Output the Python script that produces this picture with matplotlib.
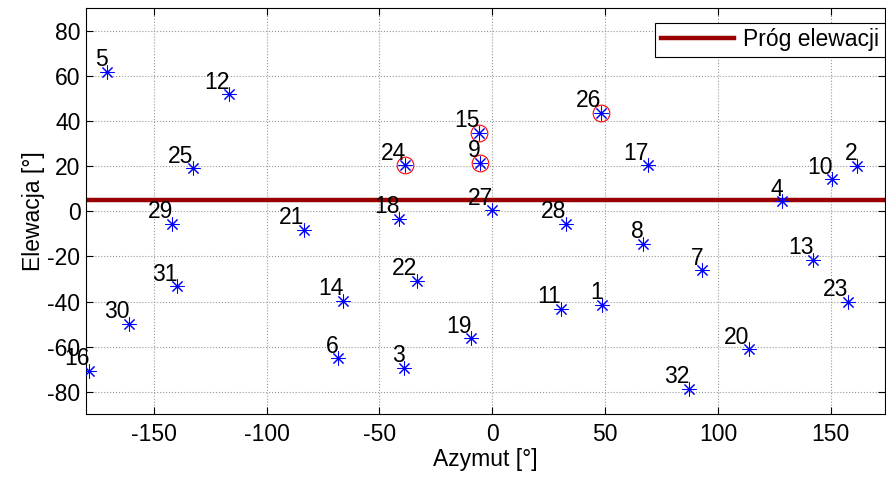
import numpy as np
import matplotlib as mpl
mpl.use('Agg')
import matplotlib.pyplot as plt

plt.rcParams['font.family'] = ['Liberation Sans', 'DejaVu Sans']
plt.rcParams['axes.unicode_minus'] = False

# satellite positions
sat_ids = [1, 2, 3, 4, 5, 6, 7, 8, 9, 10, 11, 12, 13, 14, 15, 16,
           17, 18, 19, 20, 21, 22, 23, 24, 25, 26, 27, 28, 29, 30, 31, 32]
azimuth = [48.7, 161.5, -39.1, 128.5, -170.6, -68.4, 93.1, 66.8, -5.3, 150.4,
           30.3, -116.6, 142.3, -66.2, -5.8, -178.8, 69.0, -41.2, -9.4, 113.7,
           -83.6, -33.5, 157.5, -38.5, -132.7, 48.0, -0.1, 32.6, -141.7, -160.8,
           -139.6, 87.2]
elevation = [-41.5, 20.3, -69.3, 4.4, 61.8, -65.2, -26.2, -14.4, 21.5, 14.1,
             -43.2, 51.9, -21.5, -39.7, 34.8, -70.8, 20.4, -3.2, -56.3, -61.2,
             -8.1, -30.7, -40.3, 20.4, 19.0, 43.7, 0.4, -5.5, -5.5, -49.9,
             -33.3, -78.8]
visible_ids = [9, 15, 24, 26]
elev_mask = 5

fs = 16.5

fig = plt.figure(figsize=(8.86, 4.8), dpi=100)
ax = fig.add_axes([0.0971, 0.1369, 0.9018, 0.8458])

ax.axhline(elev_mask, color=(0.6, 0, 0), lw=3.2, label='Próg elewacji', zorder=2)

ax.plot(azimuth, elevation, ls='none', marker=(8, 2, 0), ms=10, mew=0.75,
        color='blue', zorder=3)

az_vis = [azimuth[sat_ids.index(i)] for i in visible_ids]
el_vis = [elevation[sat_ids.index(i)] for i in visible_ids]
ax.plot(az_vis, el_vis, ls='none', marker='o', ms=12, mfc='none', mec='red',
        mew=0.8, zorder=4)

for sid, az, el in zip(sat_ids, azimuth, elevation):
    ax.annotate(str(sid), (az, el), xytext=(0.5, 0.5), textcoords='offset points',
                ha='right', va='bottom', fontsize=fs, zorder=5)

ax.set_xlim(-180, 174)
ax.set_ylim(-90, 90)
ax.set_xticks([-150, -100, -50, 0, 50, 100, 150])
ax.set_yticks([-80, -60, -40, -20, 0, 20, 40, 60, 80])
ax.tick_params(direction='in', top=True, right=True, length=5, labelsize=fs)
ax.tick_params(axis='x', pad=6)
ax.tick_params(axis='y', pad=4)
ax.grid(True, ls=':', color='0.6', lw=0.8)
ax.set_axisbelow(True)
ax.set_xlabel('Azymut [°]', fontsize=fs, labelpad=2)
ax.set_ylabel('Elewacja [°]', fontsize=fs, labelpad=2)

leg = ax.legend(loc='upper right', bbox_to_anchor=(1.0, 0.965), fontsize=fs,
                fancybox=False, framealpha=1, edgecolor='black',
                handlelength=3.2, handletextpad=0.4, borderpad=0.25,
                borderaxespad=0)
leg.get_frame().set_linewidth(0.8)

fig.savefig('out.png', dpi=100)
